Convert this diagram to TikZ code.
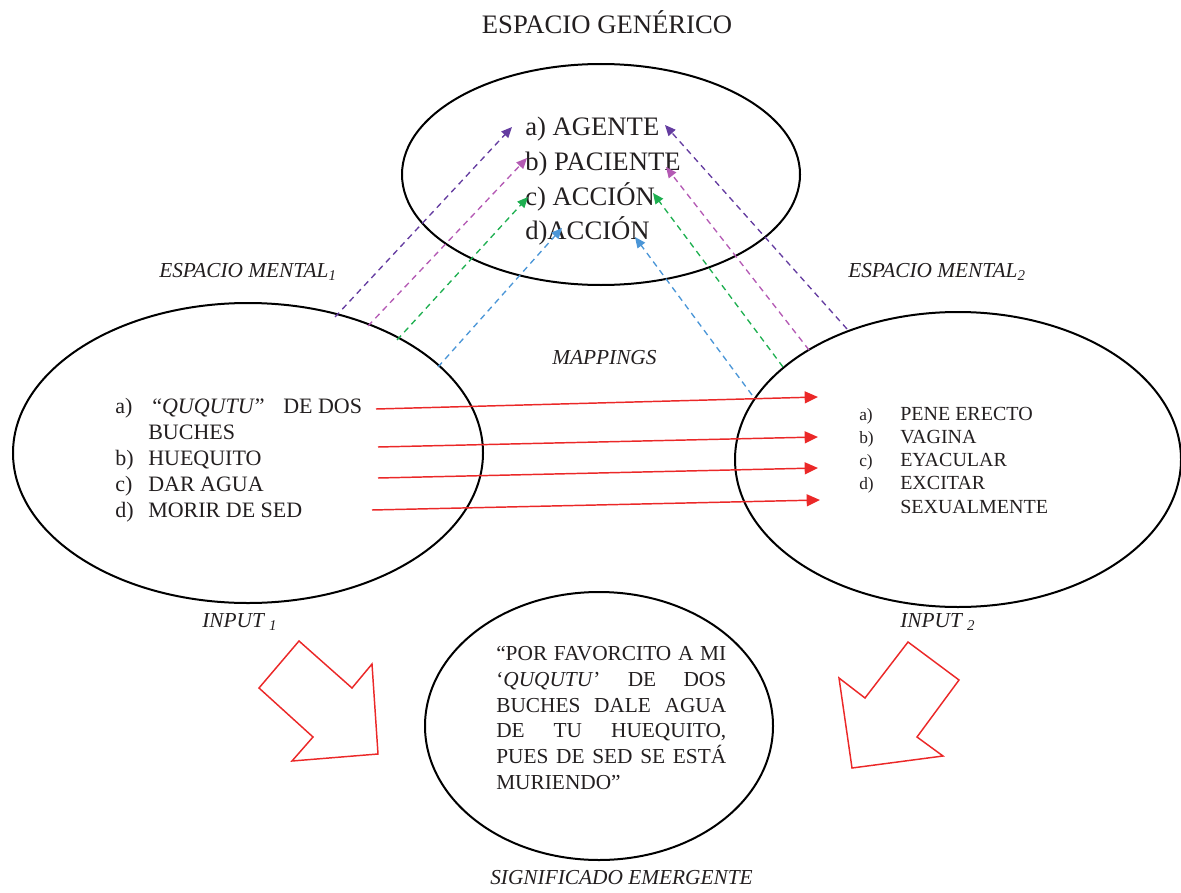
\documentclass[tikz,border=0pt]{standalone}
\usepackage{fontspec}
\setmainfont{Liberation Serif}
\usetikzlibrary{arrows.meta,shapes.geometric}
\definecolor{cpur}{RGB}{100,60,160}
\definecolor{cmag}{RGB}{180,90,180}
\definecolor{cgrn}{RGB}{30,175,80}
\definecolor{cblu}{RGB}{75,150,215}
\definecolor{cred}{RGB}{235,40,40}
\definecolor{ctxt}{RGB}{35,31,32}
\begin{document}
\begin{tikzpicture}[x=0.75pt,y=-0.75pt,
  oval/.style={draw=black, line width=1.5pt, ellipse, inner sep=0pt},
  txt/.style={inner sep=0pt, anchor=base west, text=ctxt},
  lab/.style={inner sep=0pt, anchor=base west, text=ctxt, font=\fontsize{16}{19}\selectfont\itshape},
  toplist/.style={txt, font=\fontsize{20}{24}\selectfont},
  leftlist/.style={txt, font=\fontsize{16.5}{19}\selectfont},
  rightlist/.style={txt, font=\fontsize{15}{18}\selectfont},
  rightnum/.style={txt, font=\fontsize{13}{16}\selectfont},
  emtext/.style={txt, font=\fontsize{16}{19}\selectfont},
  dasharrow/.style={dash pattern=on 4.5pt off 3.5pt, line width=1pt, -{Triangle[length=8pt,width=7pt]}},
  maparrow/.style={draw=cred, line width=1.1pt, -{Triangle[length=10pt,width=9pt]}},
  bigarrow/.style={draw=cred, line width=1.1pt, line join=miter}]
\useasboundingbox (0,0) rectangle (1181,892);

% ellipses
\node[oval, minimum width=298.5pt, minimum height=165.75pt] (gen) at (601,174.5) {};
\node[oval, minimum width=352.5pt, minimum height=225pt] (in1) at (248,453) {};
\node[oval, minimum width=334.5pt, minimum height=221.25pt] (in2) at (958,459.5) {};
\node[oval, minimum width=261pt, minimum height=201pt] (em) at (599,726) {};

% title and labels
\node[txt, anchor=base, font=\fontsize{20}{24}\selectfont] (title) at (607,34) {ESPACIO GENÉRICO};
\node[lab] (lm1) at (159,277) {ESPACIO MENTAL\textsubscript{1}};
\node[lab] (lm2) at (848,277) {ESPACIO MENTAL\textsubscript{2}};
\node[lab] (lmap) at (552,364) {MAPPINGS};
\node[lab] (lin1) at (202,627) {INPUT \textsubscript{1}};
\node[lab] (lin2) at (900,627) {INPUT \textsubscript{2}};
\node[lab] (lsig) at (490,884) {SIGNIFICADO EMERGENTE};

% generic space list
\node[toplist] (ga) at (525,135) {a) AGENTE};
\node[toplist] (gb) at (525,170) {b) PACIENTE};
\node[toplist] (gc) at (525,205) {c) ACCIÓN};
\node[toplist] (gd) at (525,239) {d)ACCIÓN};

% input 1 list
\node[leftlist] (la) at (115,413) {a)};
\node[leftlist] (laq) at (152,413) {“\textit{QUQUTU}”};
\node[leftlist] (lad) at (283,413) {DE DOS};
\node[leftlist] (la2) at (148,439) {BUCHES};
\node[leftlist] (lb) at (115,465) {b)};
\node[leftlist] (lbt) at (148,465) {HUEQUITO};
\node[leftlist] (lc) at (115,491) {c)};
\node[leftlist] (lct) at (148,491) {DAR AGUA};
\node[leftlist] (ld) at (115,517) {d)};
\node[leftlist] (ldt) at (148,517) {MORIR DE SED};

% input 2 list
\node[rightnum] (ra) at (859,420) {a)};
\node[rightlist] (rat) at (900,420) {PENE ERECTO};
\node[rightnum] (rb) at (859,443) {b)};
\node[rightlist] (rbt) at (900,443) {VAGINA};
\node[rightnum] (rc) at (859,466) {c)};
\node[rightlist] (rct) at (900,466) {EYACULAR};
\node[rightnum] (rd) at (859,489) {d)};
\node[rightlist] (rdt) at (900,489) {EXCITAR};
\node[rightlist] (rdt2) at (900,513) {SEXUALMENTE};

% emergent meaning
\node[emtext] (e1) at (496,660) {\makebox[172.5pt][s]{“POR FAVORCITO A MI}};
\node[emtext] (e2) at (496,686) {\makebox[172.5pt][s]{‘\textit{QUQUTU}’ DE DOS}};
\node[emtext] (e3) at (496,712) {\makebox[172.5pt][s]{BUCHES DALE AGUA}};
\node[emtext] (e4) at (496,737) {\makebox[172.5pt][s]{DE TU HUEQUITO,}};
\node[emtext] (e5) at (496,763) {\makebox[172.5pt][s]{PUES DE SED SE ESTÁ}};
\node[emtext] (e6) at (496,789) {MURIENDO”};

% dashed arrow coordinates
\coordinate (p1s) at (335,317); \coordinate (p1e) at (512,127);
\coordinate (m1s) at (368,326); \coordinate (m1e) at (527,158);
\coordinate (g1s) at (397,340); \coordinate (g1e) at (528,197);
\coordinate (b1s) at (438,367); \coordinate (b1e) at (562,228);
\coordinate (p2s) at (847,329); \coordinate (p2e) at (665,125);
\coordinate (m2s) at (809,350); \coordinate (m2e) at (666,167);
\coordinate (g2s) at (783,367); \coordinate (g2e) at (653,193);
\coordinate (b2s) at (752,395); \coordinate (b2e) at (635,237);

\draw[dasharrow, cpur] (p1s) -- (p1e);
\draw[dasharrow, cmag] (m1s) -- (m1e);
\draw[dasharrow, cgrn] (g1s) -- (g1e);
\draw[dasharrow, cblu] (b1s) -- (b1e);
\draw[dasharrow, cpur] (p2s) -- (p2e);
\draw[dasharrow, cmag] (m2s) -- (m2e);
\draw[dasharrow, cgrn] (g2s) -- (g2e);
\draw[dasharrow, cblu] (b2s) -- (b2e);

% mapping arrows
\coordinate (r1s) at (376,409); \coordinate (r1e) at (818,397);
\coordinate (r2s) at (378,447); \coordinate (r2e) at (818,437);
\coordinate (r3s) at (378,478); \coordinate (r3e) at (818,468);
\coordinate (r4s) at (372,510); \coordinate (r4e) at (820,500);
\draw[maparrow] (r1s) -- (r1e);
\draw[maparrow] (r2s) -- (r2e);
\draw[maparrow] (r3s) -- (r3e);
\draw[maparrow] (r4s) -- (r4e);

% big block arrows
\draw[bigarrow] (299,641) -- (352,688) -- (372,664) -- (378,754) -- (292,761) -- (313,737) -- (259,688) -- cycle;
\draw[bigarrow] (908,642) -- (959,680) -- (917,737) -- (943,756) -- (852,768) -- (839,678) -- (865,698) -- cycle;
\end{tikzpicture}
\end{document}
